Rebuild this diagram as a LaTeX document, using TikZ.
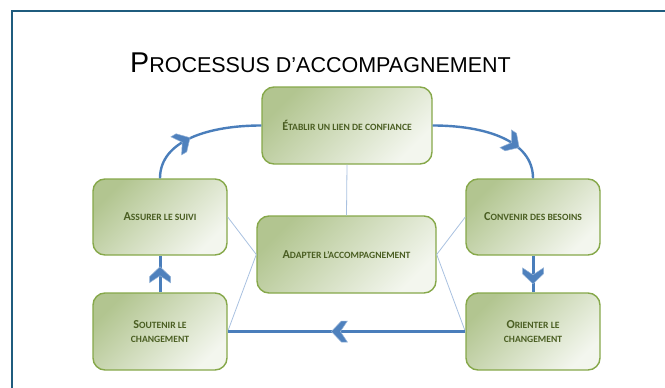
\documentclass[tikz,border=0pt]{standalone}
\usepackage{fontspec}
\setmainfont{Carlito}
\newfontfamily\titlefont{Liberation Sans}
\usetikzlibrary{decorations.markings}
\definecolor{frameblue}{HTML}{1F5C7E}
\definecolor{flowblue}{HTML}{4A7EBB}
\definecolor{spokeblue}{HTML}{A9C1E0}
\definecolor{boxdark}{HTML}{B2C590}
\definecolor{boxlight}{HTML}{F3F6EE}
\definecolor{boxedge}{HTML}{86A84A}
\definecolor{boxtext}{HTML}{4A5E22}
\definecolor{chevfill}{HTML}{4F81BD}
\definecolor{chevedge}{HTML}{95B3D7}
\newcommand\Bg[1]{{\fontsize{12.2}{14}\selectfont #1}}
\newcommand\Sm[1]{{\fontsize{9.6}{14}\selectfont #1}}
\newcommand\TBg[1]{{\fontsize{28.6}{30}\selectfont #1}}
\newcommand\TSm[1]{{\fontsize{21.5}{30}\selectfont #1}}
\tikzset{
  stepbox/.style={draw=boxedge, line width=1.4pt, rounded corners=12pt,
    top color=boxdark, bottom color=boxlight, shading angle=45,
    text=boxtext, font=\bfseries\fontsize{9.6}{14}\selectfont, align=center,
    inner sep=0pt},
  flowline/.style={draw=flowblue, line width=2.4pt},
  spoke/.style={draw=spokeblue, line width=0.8pt},
  chevron at/.style={postaction={decorate,decoration={markings,
    mark=at position #1 with {\filldraw[fill=chevfill,draw=chevedge,line width=0.5pt,line join=miter]
      (8pt,0pt)--(-2pt,10.5pt)--(-8pt,10.5pt)--(-1pt,0pt)--(-8pt,-10.5pt)--(-2pt,-10.5pt)--cycle;}}}},
}
\begin{document}
\begin{tikzpicture}[x=1pt,y=-1pt]
\useasboundingbox (0,0) rectangle (665,388);
\draw[frameblue, line width=2.4pt] (12,388) -- (12,11) -- (665,11);
\node[anchor=base west, inner sep=0pt, font=\titlefont] (title) at (130,72)
  {\TBg{P}\TSm{ROCESSUS D’ACCOMPAGNEMENT}};
\node[stepbox, minimum width=170pt, minimum height=77pt] (etablir) at (347,125.5)
  {\Bg{É}\Sm{TABLIR UN LIEN DE CONFIANCE}};
\node[stepbox, minimum width=134pt, minimum height=76pt] (assurer) at (160,217)
  {\Bg{A}\Sm{SSURER LE SUIVI}};
\node[stepbox, minimum width=134pt, minimum height=76pt] (convenir) at (533,217)
  {\Bg{C}\Sm{ONVENIR DES BESOINS}};
\node[stepbox, minimum width=179pt, minimum height=77pt] (adapter) at (346.5,254.5)
  {\Bg{A}\Sm{DAPTER L’ACCOMPAGNEMENT}};
\node[stepbox, minimum width=134pt, minimum height=77pt] (soutenir) at (160,331.5)
  {\Bg{S}\Sm{OUTENIR LE}\\\Sm{CHANGEMENT}};
\node[stepbox, minimum width=134pt, minimum height=77pt] (orienter) at (533,331.5)
  {\Bg{O}\Sm{RIENTER LE}\\\Sm{CHANGEMENT}};
% spokes
\draw[spoke] (adapter.north) -- (etablir.south);
\draw[spoke] (adapter.west) -- (assurer.east);
\draw[spoke] (adapter.west) -- (soutenir.east);
\draw[spoke] (adapter.east) -- (convenir.west);
\draw[spoke] (adapter.east) -- (orienter.west);
% cycle
\draw[flowline, chevron at=0.36] (assurer.north) .. controls +(0,-38) and +(-52,0) .. (etablir.west);
\draw[flowline, chevron at=0.66] (etablir.east) .. controls +(52,0) and +(0,-38) .. (convenir.north);
\draw[flowline, line width=3pt, chevron at=0.55] (convenir.south) -- (orienter.north);
\draw[flowline, line width=3pt, chevron at=0.53] (orienter.west) -- (soutenir.east);
\draw[flowline, line width=3pt, chevron at=0.48] (soutenir.north) -- (assurer.south);
\end{tikzpicture}
\end{document}
